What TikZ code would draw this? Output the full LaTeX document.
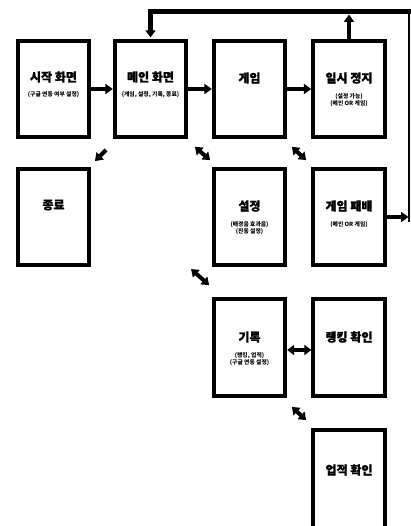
\documentclass[tikz,border=0pt]{standalone}
\usepackage{fontspec}
\setmainfont{Noto Sans CJK KR}
\newfontfamily\heavy{Noto Sans CJK KR}[BoldFeatures={FakeBold=1.2}]
\usetikzlibrary{arrows.meta,calc}
\begin{document}
\begin{tikzpicture}[x=1pt,y=-1pt,
 box/.style={draw=black,line width=3.8pt,minimum width=71.5pt,minimum height=96.5pt,inner sep=0pt},
 ttl/.style={font=\heavy\bfseries\fontsize{12}{14}\selectfont,inner sep=0pt},
 sub/.style={font=\bfseries\fontsize{5.8}{7}\selectfont,inner sep=0pt,align=center},
 arr/.style={line width=3.8pt,-{Triangle[length=7.5pt,width=10pt]}},
 darr/.style={line width=4pt,{Triangle[length=7pt,width=10pt]}-{Triangle[length=7pt,width=10pt]}}]
\useasboundingbox (0,0) rectangle (411,526);
\fill[white] (0,0) rectangle (411,526);
% boxes
\node[box] (start) at (53.5,89) {};
\node[box] (main) at (150.5,89) {};
\node[box] (game) at (249.5,89) {};
\node[box] (pause) at (349,89) {};
\node[box] (quit) at (53.5,217) {};
\node[box] (settings) at (249.5,217) {};
\node[box] (over) at (349,217) {};
\node[box] (record) at (249.5,347.5) {};
\node[box] (rank) at (349,347.5) {};
\node[box,minimum height=100pt] (achieve) at (349,479.75) {};
% titles
\node[ttl] (t1) at (53.5,77) {시작 화면};
\node[sub] (s1) at (53.5,95) {(구글 연동 여부 설정)};
\node[ttl] (t2) at (150.5,77) {메인 화면};
\node[sub] (s2) at (150.5,95) {(게임, 설정, 기록, 종료)};
\node[ttl] (t3) at (249.5,78) {게임};
\node[ttl] (t4) at (349,78) {일시 정지};
\node[sub] (s4) at (349,100) {(설정 가능)\\(메인 OR 게임)};
\node[ttl] (t5) at (53.5,205) {종료};
\node[ttl] (t6) at (249.5,206) {설정};
\node[sub] (s6) at (249.5,228) {(배경음 효과음)\\(진동 설정)};
\node[ttl] (t7) at (349,206) {게임 패배};
\node[sub] (s7) at (349,225) {(메인 OR 게임)};
\node[ttl] (t8) at (249.5,337) {기록};
\node[sub] (s8) at (249.5,359) {(랭킹, 업적)\\(구글 연동 설정)};
\node[ttl] (t9) at (349,337) {랭킹 확인};
\node[ttl] (t10) at (349,470) {업적 확인};
% straight arrows
\draw[arr] (start.east) -- (main.west);
\draw[arr] (main.east) -- (game.west);
\draw[arr] (game.east) -- (pause.west);
% feedback loop
\coordinate (tr) at (412,11.5);
\coordinate (rtop) at (408.5,11.5);
\coordinate (rbot) at (408.5,222);
\draw[line width=2pt] (rtop) -- (rbot);
\draw[line width=5.5pt,line join=miter,-{Triangle[length=7pt,width=10pt]},shorten >=1.5pt] (tr) -- (main.north |- tr) -- (main.north);
\draw[arr] (pause.north) -- ($(pause.north |- tr)+(0,3)$);
\draw[arr] (over.east) -- (over.east -| rbot);
% diagonal arrows
\draw[arr,line width=4pt] ($(main.south west)+(-6.75,10.75)$) -- ($(quit.north east)+(3.75,-5.75)$);
\draw[darr] ($(main.south east)+(6.75,7.75)$) -- ($(settings.north west)+(-1.75,-6.75)$);
\draw[darr] ($(game.south east)+(4.75,7.75)$) -- ($(over.north west)+(-5.25,-6.75)$);
\draw[darr] ($(record.north west)+(-20.75,-28.25)$) -- ($(record.north west)+(-2.75,-12.25)$);
\draw[darr] ($(record.east)+(0,2.5)$) -- ($(rank.west)+(0,2.5)$);
\draw[darr] ($(record.south east)+(4.75,9.25)$) -- ($(achieve.north west)+(-5.25,-7.75)$);
\end{tikzpicture}
\end{document}
